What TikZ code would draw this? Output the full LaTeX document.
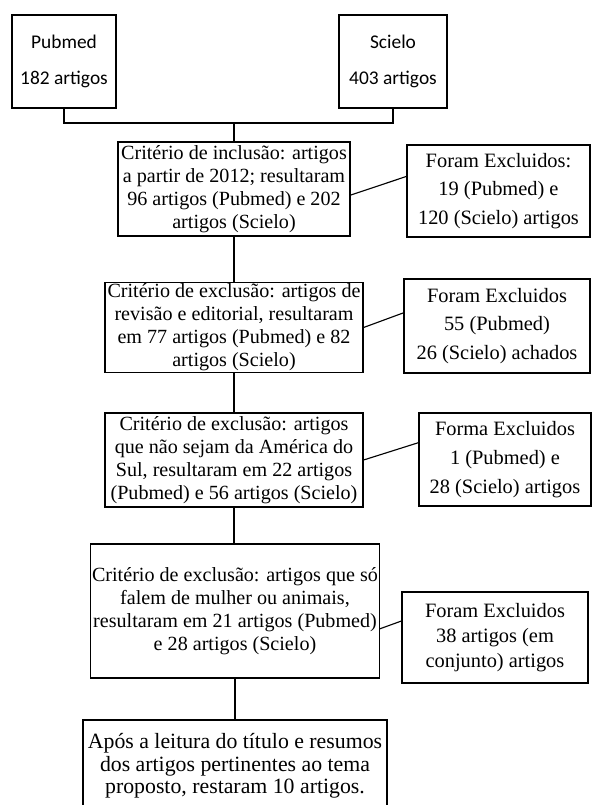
\documentclass[tikz,border=0pt]{standalone}
\usepackage{fontspec}
\setmainfont{Liberation Serif}
\newfontfamily\calibri{Carlito}

\begin{document}
\begin{tikzpicture}[x=0.025cm, y=-0.025cm, line width=0.8pt,
    caixa/.style={draw, align=center, inner sep=1pt},
    base/.style={caixa, font=\calibri\fontsize{13.8}{25.6}\selectfont,
        minimum height=2.325cm},
    criterio/.style={caixa, font=\fontsize{14.3}{16.4}\selectfont},
    excluido/.style={caixa, font=\fontsize{14.5}{20.5}\selectfont}]
    % area da figura
    \useasboundingbox (0,0) rectangle (593,805);

    % bases de dados
    \node[base, minimum width=2.6cm] (pubmed) at (64,61.5) {Pubmed\\182 artigos};
    \node[base, minimum width=2.7cm] (scielo) at (393,61.5) {Scielo\\403 artigos};
    \coordinate (juncao) at (234,123);
    \draw (pubmed.south) |- (juncao) -| (scielo.south);

    % criterios (coluna da esquerda)
    \node[criterio, minimum width=5.8cm, minimum height=2.35cm] (crit1) at (234,189)
        {Critério de inclusão: artigos\\a partir de 2012; resultaram\\96 artigos (Pubmed) e 202\\artigos (Scielo)};
    \node[criterio, minimum width=6.45cm, minimum height=2.225cm] (crit2) at (234,327.5)
        {Critério de exclusão: artigos de\\revisão e editorial, resultaram\\em 77 artigos (Pubmed) e 82\\artigos (Scielo)};
    \node[criterio, minimum width=6.45cm, minimum height=2.35cm] (crit3) at (234,460)
        {Critério de exclusão: artigos\\que não sejam da América do\\Sul, resultaram em 22 artigos\\(Pubmed) e 56 artigos (Scielo)};
    \node[criterio, minimum width=7.2cm, minimum height=3.35cm] (crit4) at (235,611)
        {Critério de exclusão: artigos que só\\falem de mulher ou animais,\\resultaram em 21 artigos (Pubmed)\\e 28 artigos (Scielo)};
    \node[caixa, font=\fontsize{15.5}{15.9}\selectfont, minimum width=7.6cm,
        minimum height=2.3cm] (final) at (235,766)
        {Após a leitura do título e resumos\\dos artigos pertinentes ao tema\\proposto, restaram 10 artigos.};

    % excluidos (coluna da direita)
    \node[excluido, minimum width=4.575cm, minimum height=2.3cm] (excl1) at (498.5,191)
        {Foram Excluidos:\\19 (Pubmed) e\\120 (Scielo) artigos};
    \node[excluido, minimum width=4.65cm, minimum height=2.35cm] (excl2) at (497,326)
        {Foram Excluidos\\55 (Pubmed)\\26 (Scielo) achados};
    \node[excluido, minimum width=4.3cm, minimum height=2.325cm] (excl3) at (505,459.5)
        {Forma Excluidos\\1 (Pubmed) e\\28 (Scielo) artigos};
    \node[excluido, font=\fontsize{14.5}{18}\selectfont, minimum width=4.65cm,
        minimum height=2.275cm] (excl4) at (495,637.5)
        {Foram Excluidos\\38 artigos (em\\conjunto) artigos};

    % ligacoes
    \draw (juncao) -- (crit1.north);
    \draw (crit1.south) -- (crit2.north);
    \draw (crit2.south) -- (crit3.north);
    \draw (crit3.south) -- (crit3.south |- crit4.north);
    \draw (crit4.south) -- (crit4.south |- final.north);

    \draw (crit1.-3) -- (excl1.171);
    \draw (crit2.east) -- (excl2.172);
    \draw (crit3.east) -- (excl3.169);
    \draw (crit4.-7) -- (excl4.170);
\end{tikzpicture}
\end{document}
